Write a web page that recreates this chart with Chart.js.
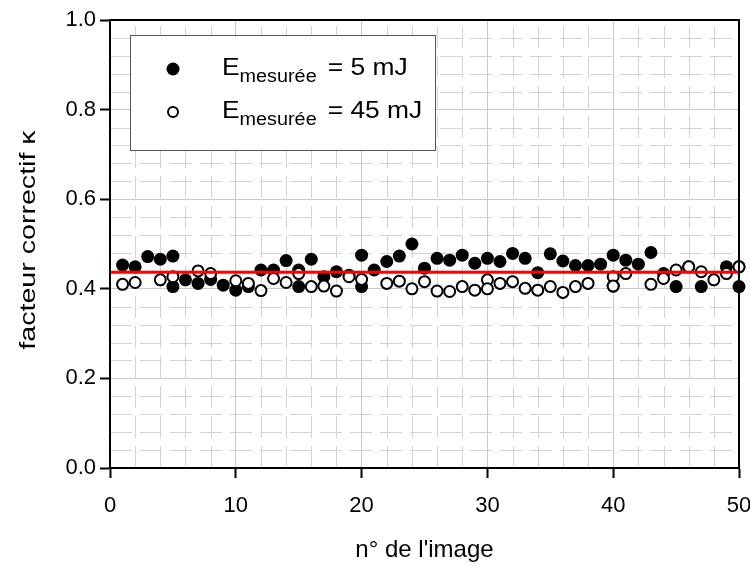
<!DOCTYPE html>
<html>
<head>
<meta charset="utf-8">
<script src="https://cdn.jsdelivr.net/npm/chart.js@4.4.1/dist/chart.umd.min.js"></script>
<style>
    html, body { margin: 0; padding: 0; background: #fff; }
</style>
</head>
<body>
<canvas id="chart" width="750" height="569"></canvas>
<script>
// Data
const filledX = [1, 2, 3, 4, 5, 5, 6, 7, 8, 9, 10, 11, 12, 13, 14, 15, 15, 16, 17, 18, 19, 20, 20, 21, 22, 23, 24, 25,
    26, 27, 28, 29, 30, 31, 32, 33, 34, 35, 36, 37, 38, 39, 40, 40, 41, 42, 43, 44, 45, 46, 47, 49, 50, 50];
const filledY = [0.453, 0.449, 0.472, 0.466, 0.473, 0.405, 0.420, 0.412, 0.421, 0.408, 0.397, 0.405, 0.442, 0.442, 0.463, 0.405, 0.442, 0.466, 0.427, 0.438, 0.430, 0.475, 0.405, 0.442, 0.461, 0.473, 0.500, 0.446,
    0.468, 0.464, 0.475, 0.457, 0.468, 0.461, 0.479, 0.468, 0.436, 0.478, 0.462, 0.452, 0.452, 0.455, 0.475, 0.406, 0.464, 0.455, 0.481, 0.434, 0.405, 0.449, 0.405, 0.449, 0.449, 0.405];

const openX = [1, 2, 4, 5, 7, 8, 10, 11, 12, 13, 14, 15, 16, 17, 18, 19, 20, 22, 23, 24, 25, 26, 27, 28, 29, 30, 30,
    31, 32, 33, 34, 35, 36, 37, 38, 40, 40, 41, 43, 44, 45, 46, 47, 48, 49, 50];
const openY = [0.410, 0.414, 0.420, 0.427, 0.440, 0.434, 0.418, 0.412, 0.396, 0.423, 0.414, 0.434, 0.405, 0.406, 0.395, 0.427, 0.421, 0.412, 0.417, 0.400, 0.416, 0.395, 0.394, 0.405, 0.397, 0.420, 0.400,
    0.412, 0.416, 0.401, 0.397, 0.405, 0.392, 0.405, 0.412, 0.427, 0.406, 0.434, 0.410, 0.423, 0.442, 0.449, 0.438, 0.420, 0.434, 0.449];

const meanValue = 0.437;
const meanX = [0, 50];

const xMin = 0, xMax = 50, xStep = 10, xMinorStep = 2;
const yMin = 0, yMax = 1.0, yStep = 0.2, yMinorStep = 0.04;

const legendLabels = ['= 5 mJ', '= 45 mJ'];
const yTitle = 'facteur correctif κ';

function toPoints(xs, ys) {
    return xs.map((x, i) => ({ x: x, y: ys[i] }));
}

const FONT = "'Liberation Sans', Arial, sans-serif";

// Minor grid (dashed, light grey) under the major grid
const minorGrid = {
    id: 'minorGrid',
    beforeDraw(chart) {
        const ctx = chart.ctx;
        const area = chart.chartArea;
        const xs = chart.scales.x, ys = chart.scales.y;
        ctx.save();
        ctx.strokeStyle = '#d2d2d2';
        ctx.lineWidth = 1;
        ctx.setLineDash([22, 8]);
        for (let v = xMin + xMinorStep; v < xMax; v += xMinorStep) {
            if (Math.abs(v % xStep) < 1e-6) continue;
            const px = Math.round(xs.getPixelForValue(v)) + 0.5;
            ctx.beginPath();
            ctx.moveTo(px, area.bottom);
            ctx.lineTo(px, area.top);
            ctx.stroke();
        }
        for (let i = 1; i * yMinorStep < yMax - 1e-6; i++) {
            const v = i * yMinorStep;
            if (i % 5 === 0) continue;
            const py = Math.round(ys.getPixelForValue(v)) + 0.5;
            ctx.beginPath();
            ctx.moveTo(area.left, py);
            ctx.lineTo(area.right, py);
            ctx.stroke();
        }
        ctx.restore();
    }
};

// Black frame round the plot area
const frame = {
    id: 'frame',
    afterDatasetsDraw(chart) {
        const ctx = chart.ctx;
        const a = chart.chartArea;
        ctx.save();
        ctx.strokeStyle = '#000';
        ctx.lineWidth = 2;
        ctx.strokeRect(a.left, a.top, a.right - a.left, a.bottom - a.top);
        ctx.restore();
    }
};

// Y title, a bit stretched along its length like the original
const yTitleText = {
    id: 'yTitleText',
    afterDraw(chart) {
        const ctx = chart.ctx;
        const a = chart.chartArea;
        ctx.save();
        ctx.translate(29, (a.top + a.bottom) / 2 - 4);
        ctx.rotate(-Math.PI / 2);
        ctx.scale(1.3, 1);
        ctx.font = '22px ' + FONT;
        ctx.fillStyle = '#000';
        ctx.textAlign = 'center';
        ctx.textBaseline = 'middle';
        ctx.fillText(yTitle, 0, 0);
        ctx.restore();
    }
};

// Legend box with subscript text
const legendBox = {
    id: 'legendBox',
    afterDraw(chart) {
        const ctx = chart.ctx;
        ctx.save();
        ctx.fillStyle = '#fff';
        ctx.fillRect(130, 35, 305, 115);
        ctx.strokeStyle = '#555';
        ctx.lineWidth = 1;
        ctx.strokeRect(130.5, 35.5, 305, 115);

        const rows = [75, 118];
        rows.forEach((base, i) => {
            // marker
            ctx.beginPath();
            if (i === 0) {
                ctx.arc(173, base - 6, 6.5, 0, Math.PI * 2);
                ctx.fillStyle = '#000';
                ctx.fill();
            } else {
                ctx.arc(173, base - 6, 5, 0, Math.PI * 2);
                ctx.fillStyle = '#fff';
                ctx.fill();
                ctx.lineWidth = 2;
                ctx.strokeStyle = '#000';
                ctx.stroke();
            }
            ctx.save();
            ctx.translate(222, base);
            ctx.scale(1.1, 1);
            ctx.fillStyle = '#000';
            ctx.textBaseline = 'alphabetic';
            ctx.textAlign = 'left';
            let x = 0;
            ctx.font = '24px ' + FONT;
            ctx.fillText('E', x, 0);
            x += ctx.measureText('E').width;
            ctx.font = '18px ' + FONT;
            ctx.fillText('mesurée', x, 7);
            x += ctx.measureText('mesurée').width + 10;
            ctx.font = '24px ' + FONT;
            ctx.fillText(legendLabels[i], x, 0);
            ctx.restore();
        });
        ctx.restore();
    }
};

const ctx = document.getElementById('chart');
new Chart(ctx, {
    type: 'scatter',
    data: {
        datasets: [
            {
                label: 'moyenne',
                type: 'line',
                data: toPoints(meanX, [meanValue, meanValue]),
                borderColor: '#ff0000',
                borderWidth: 3,
                pointRadius: 0,
                order: 0
            },
            {
                label: 'E mesurée = 45 mJ',
                data: toPoints(openX, openY),
                pointRadius: 5.5,
                pointBorderWidth: 2,
                pointBackgroundColor: '#fff',
                pointBorderColor: '#000',
                clip: false,
                order: 1
            },
            {
                label: 'E mesurée = 5 mJ',
                data: toPoints(filledX, filledY),
                pointRadius: 6.5,
                pointBorderWidth: 0,
                pointBackgroundColor: '#000',
                pointBorderColor: '#000',
                clip: false,
                order: 2
            }
        ]
    },
    options: {
        responsive: false,
        animation: false,
        layout: { padding: { top: 20, right: 11, left: 0, bottom: 0 } },
        plugins: {
            legend: { display: false },
            tooltip: { enabled: false }
        },
        scales: {
            x: {
                type: 'linear',
                min: xMin,
                max: xMax,
                afterFit: s => { s.height = 101; s.paddingLeft = 0; s.paddingRight = 0; },
                ticks: {
                    stepSize: xStep,
                    padding: 15,
                    color: '#000',
                    font: { family: FONT, size: 22 }
                },
                grid: {
                    color: '#c8c8c8',
                    lineWidth: 1,
                    tickLength: 10,
                    tickColor: '#000',
                    tickWidth: 2
                },
                border: { color: '#000', width: 2 },
                title: {
                    display: true,
                    text: "n° de l'image",
                    color: '#000',
                    font: { family: FONT, size: 24 },
                    padding: { top: 9 }
                }
            },
            y: {
                type: 'linear',
                min: yMin,
                max: yMax,
                afterFit: s => { s.width = 110; s.paddingTop = 0; s.paddingBottom = 0; },
                ticks: {
                    stepSize: yStep,
                    padding: 4,
                    color: '#000',
                    font: { family: FONT, size: 22 },
                    callback: v => v.toFixed(1)
                },
                grid: {
                    color: '#c8c8c8',
                    lineWidth: 1,
                    tickLength: 10,
                    tickColor: '#000',
                    tickWidth: 2
                },
                border: { color: '#000', width: 2 },
                title: { display: false }
            }
        }
    },
    plugins: [minorGrid, frame, yTitleText, legendBox]
});
</script>
</body>
</html>
